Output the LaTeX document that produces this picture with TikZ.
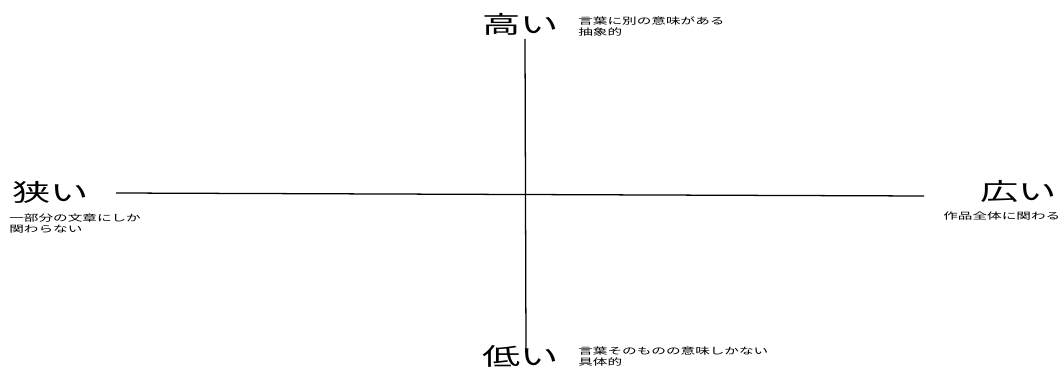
\documentclass[tikz,border=0pt]{standalone}
\usepackage{fontspec}
\usepackage{tikz}
\newfontfamily\jp[FakeStretch=1.6]{Noto Sans CJK JP}

\begin{document}
\begin{tikzpicture}[x=0.7113pt, y=-0.7113pt,
    big/.style={anchor=west, inner sep=0pt, font=\jp\fontsize{17pt}{20pt}\selectfont},
    note/.style={anchor=west, inner sep=0pt, align=left, font=\jp\fontsize{6.5pt}{7.8pt}\selectfont}]
      \useasboundingbox (0,0) rectangle (1064,368);
      \node[big] (high) at (482,24) {高い};
      \node[big] (low) at (482,356) {低い};
      \node[big] (narrow) at (12,192) {狭い};
      \node[big] (wide) at (980,191) {広い};
      \node[note] (highnote) at (578,26.5) {言葉に別の意味がある\\抽象的};
      \node[note] (lownote) at (578,357) {言葉そのものの意味しかない\\具体的};
      \node[note] (narrownote) at (9,224) {一部分の文章にしか\\関わらない};
      \node[note] (widenote) at (943,216) {作品全体に関わる};
      \coordinate (top) at (525,39);
      \coordinate (bottom) at (526,352);
      \coordinate (left) at (116,193);
      \coordinate (right) at (924,196);
      \draw[line width=0.9pt] (top) -- (bottom);
      \draw[line width=0.9pt] (left) -- (right);
    \end{tikzpicture}
\end{document}
